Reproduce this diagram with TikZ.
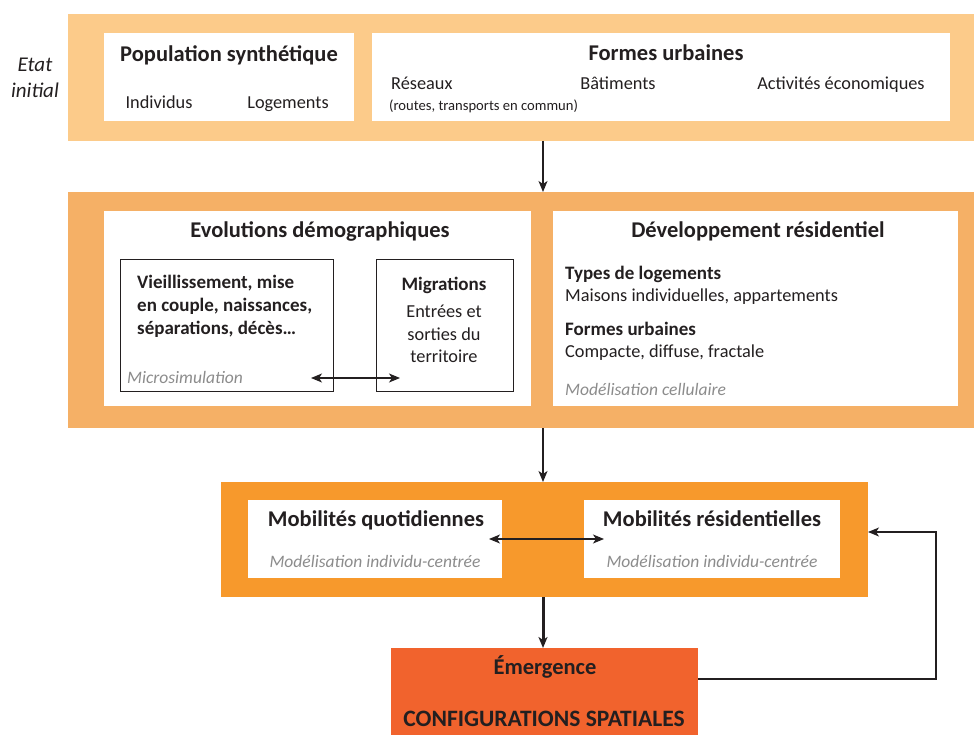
\documentclass[tikz,border=0pt]{standalone}
\usepackage{fontspec}
\setmainfont{Carlito}
\usetikzlibrary{arrows.meta,calc}
\definecolor{bandA}{HTML}{FCCB8A}
\definecolor{bandB}{HTML}{F5B066}
\definecolor{bandC}{HTML}{F7992C}
\definecolor{emerg}{HTML}{F1632D}
\definecolor{ink}{HTML}{231F20}
\definecolor{grayt}{HTML}{8C8C8C}
\begin{document}
\begin{tikzpicture}[x=1pt,y=-1pt,
  rect/.style args={#1x#2}{minimum width=#1pt, minimum height=#2pt, inner sep=0pt, outer sep=0pt},
  band/.style={fill=#1, draw=none},
  wbox/.style={fill=white, draw=none},
  fbox/.style={fill=white, draw=ink, line width=0.8pt},
  strut/.style={text height=0.75em, text depth=0pt, yshift=-3pt},
  ttl/.style={font=\fontsize{22.5}{26}\selectfont\bfseries, text=ink, inner sep=0pt, strut, yshift=-1.5pt},
  txt/.style={font=\fontsize{18.3}{22.5}\selectfont, text=ink, inner sep=0pt, strut},
  mtxt/.style={font=\fontsize{18.3}{22.5}\selectfont, text=ink, inner sep=0pt},
  bld/.style={font=\fontsize{19}{23.2}\selectfont\bfseries, text=ink, inner sep=0pt, strut},
  mbld/.style={font=\fontsize{19}{23.2}\selectfont\bfseries, text=ink, inner sep=0pt},
  itl/.style={font=\fontsize{17.5}{22}\selectfont\itshape, text=grayt, inner sep=0pt, strut},
  sml/.style={font=\fontsize{14.6}{17}\selectfont, text=ink, inner sep=0pt, strut},
  conn/.style={draw=ink, line width=1.4pt, -{Stealth[length=11pt,width=9pt,inset=3pt]}},
  dconn/.style={draw=ink, line width=1.4pt, {Stealth[length=11pt,width=9pt,inset=3pt]}-{Stealth[length=11pt,width=9pt,inset=3pt]}}
]
\useasboundingbox (0,0) rectangle (974,735);

% initial state label
\node[font=\fontsize{21}{26}\selectfont\itshape, text=ink, align=center, inner sep=0pt] (etat) at (35,78) {Etat\\initial};

% band 1
\node[rect=906x127, band=bandA] (band1) at (521,77.5) {};
\node[rect=250x88, wbox] (pop) at (229,77) {};
\node[ttl] (popt) at (229,53) {Population synthétique};
\node[txt] (indiv) at (159,102) {Individus};
\node[txt] (loge) at (288,102) {Logements};

\node[rect=578x88, wbox] (formes) at (661,77) {};
\node[ttl] (formest) at (666,52) {Formes urbaines};
\node[txt, anchor=west] (reseaux) at (391,83) {Réseaux};
\node[sml, anchor=west] (routes) at (389,104) {(routes, transports en commun)};
\node[txt] (bat) at (618,83) {Bâtiments};
\node[txt] (activ) at (841,83) {Activités économiques};

% band 2
\node[rect=906x236, band=bandB] (band2) at (521,310) {};
\node[rect=427x195, wbox] (evo) at (317.5,308.5) {};
\node[ttl] (evot) at (320,229) {Evolutions démographiques};
\node[rect=213x132, fbox] (vieil) at (226.5,325) {};
\node[mbld, anchor=north west, align=left] (vieilt) at (137,275) {Vieillissement, mise\\en couple, naissances,\\séparations, décès…};
\node[itl, anchor=west] (micro) at (127,377) {Microsimulation};
\node[rect=137x132, fbox] (migr) at (444.5,325) {};
\node[bld] (migrt) at (444,284) {Migrations};
\node[mtxt, align=center, anchor=north] (migrd) at (444,305) {Entrées et\\sorties du\\territoire};

\node[rect=405x195, wbox] (dev) at (755.5,308.5) {};
\node[ttl] (devt) at (758,229) {Développement résidentiel};
\node[bld, anchor=west] (types) at (565,273) {Types de logements};
\node[txt, anchor=west] (maisons) at (565,295) {Maisons individuelles, appartements};
\node[bld, anchor=west] (formes2) at (565,329) {Formes urbaines};
\node[txt, anchor=west] (compacte) at (565,351) {Compacte, diffuse, fractale};
\node[itl, anchor=west] (cellu) at (565,389) {Modélisation cellulaire};

% band 3
\node[rect=647x115, band=bandC] (band3) at (544.5,539.5) {};
\node[rect=254x78, wbox] (mq) at (375,539) {};
\node[ttl] (mqt) at (376,518) {Mobilités quotidiennes};
\node[itl] (mqi) at (375,561) {Modélisation individu-centrée};
\node[rect=256x78, wbox] (mr) at (712,539) {};
\node[ttl] (mrt) at (712,518) {Mobilités résidentielles};
\node[itl] (mri) at (712,561) {Modélisation individu-centrée};

% emergence
\node[rect=307x87, band=emerg] (em) at (544.5,691.5) {};
\node[ttl] (emt) at (545,666) {Émergence};
\node[ttl, font=\fontsize{23.5}{26}\selectfont\bfseries] (conf) at (544,718) {CONFIGURATIONS SPATIALES};

% connectors
\coordinate (xa) at (543,0);
\coordinate (fbk) at (936,532);
\draw[conn] (band1.south -| xa) -- (band2.north -| xa);
\draw[conn] (band2.south -| xa) -- (band3.north -| xa);
\draw[conn, line width=3pt] (band3.south -| xa) -- (em.north -| xa);
\draw[dconn] ($(vieil.south east)+(-22,-13)$) -- ($(migr.south west)+(24,-13)$);
\draw[dconn] ([xshift=-13pt]mq.east) -- ([xshift=20pt]mr.west);
\draw[conn] ([yshift=12.5pt]em.east) -| (fbk) -- (band3.east |- fbk);
\end{tikzpicture}
\end{document}
